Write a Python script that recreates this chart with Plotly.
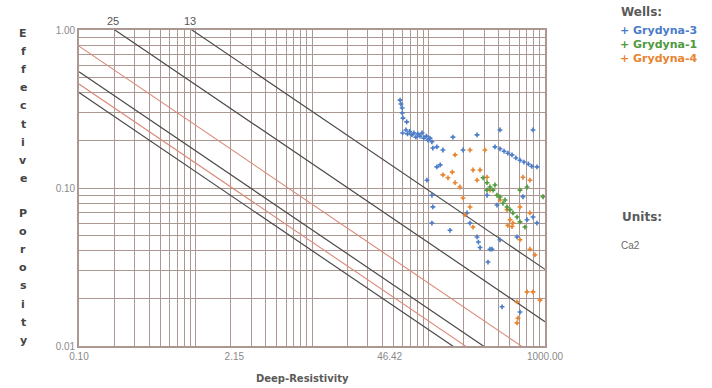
import numpy as np
import plotly.graph_objects as go

# ---------------- data ----------------
# Well Grydyna-3 (blue): deep resistivity, effective porosity
g3_rt = [57, 58, 59.5, 59.5, 60.4, 65,
         60, 64, 66, 69, 72, 75, 78, 81, 84.5, 88, 91, 96, 99, 103, 107,
         109, 118, 133, 162, 261, 411, 789, 198,
         372, 411, 445, 480, 521, 563, 610, 660, 720, 770, 853,
         126, 118, 97, 107, 109, 107, 153, 214, 227, 261, 277, 337, 411, 575, 789, 853,
         318, 387, 647, 701, 268, 351, 324, 610, 428]
g3_phi = [0.36, 0.34, 0.321, 0.298, 0.277, 0.262,
          0.223, 0.233, 0.220, 0.228, 0.217, 0.223, 0.210, 0.220, 0.213, 0.223, 0.207, 0.213, 0.201, 0.207, 0.196,
          0.179, 0.182, 0.174, 0.210, 0.217, 0.233, 0.233, 0.174,
          0.182, 0.177, 0.171, 0.166, 0.162, 0.155, 0.150, 0.146, 0.142, 0.137, 0.136,
          0.140, 0.136, 0.112, 0.090, 0.076, 0.060, 0.054, 0.0695, 0.060, 0.049, 0.042, 0.041, 0.047, 0.049, 0.0655, 0.060,
          0.090, 0.078, 0.088, 0.063, 0.0455, 0.041, 0.034, 0.0164, 0.0177]

# Well Grydyna-1 (green)
g1_rt = [294, 318, 337, 358, 387, 411, 436, 472, 501, 531, 575, 610, 673, 610, 701, 962, 318, 372, 454]
g1_phi = [0.116, 0.108, 0.1015, 0.097, 0.090, 0.0877, 0.080, 0.0758, 0.073, 0.0695, 0.0655, 0.061, 0.0566,
          0.097, 0.1015, 0.088, 0.097, 0.1045, 0.084]

# Well Grydyna-4 (orange)
g4_rt = [133, 147, 169, 186, 198, 227,
         241, 277, 261, 318, 337, 411,
         472, 501, 531, 610, 743, 647,
         743, 241, 160, 169, 227, 305,
         206, 610, 820, 701, 789, 575,
         575, 586, 906, 743, 480, 521]
g4_phi = [0.121, 0.116, 0.108, 0.1015, 0.0865, 0.0758,
          0.130, 0.130, 0.112, 0.117, 0.097, 0.084,
          0.073, 0.063, 0.060, 0.0758, 0.112, 0.117,
          0.0695, 0.0566, 0.126, 0.162, 0.174, 0.174,
          0.0675, 0.047, 0.0377, 0.022, 0.022, 0.019,
          0.014, 0.015, 0.0195, 0.041, 0.058, 0.057]

well_names = ["Grydyna-3", "Grydyna-1", "Grydyna-4"]
well_colors = ["#4a7cc8", "#4e9a3c", "#e8832e"]

# Pickett lines: phi = C / sqrt(Rt)
sw_labels = ["25", "13"]
sw_label_C = [0.451, 0.966]
black_C = [0.451, 0.966, 0.172, 0.127]
red_C = [0.250, 0.144]

x_ticks = [0.1, 2.154, 46.42, 1000]
x_ticktext = ["0.10", "2.15", "46.42", "1000.00"]
y_ticks = [0.01, 0.1, 1]
y_ticktext = ["0.01", "0.10", "1.00"]

x_title = "Deep-Resistivity"
y_title = "Effective Porosity"
units_value = "Ca2"

# ---------------- figure ----------------
L, R, T, B = 79, 545, 30, 346
W, H = 712, 388
pw, ph = R - L, B - T

def px2paper_x(px):
    return (px - L) / pw

def px2paper_y(py):
    return (B - py) / ph

fig = go.Figure()

rt_line = np.array([0.1, 1000.0])
for c in red_C:
    fig.add_trace(go.Scatter(x=rt_line, y=c / np.sqrt(rt_line), mode="lines",
                             line=dict(color="#d98a78", width=1.1), hoverinfo="skip"))
for c in black_C:
    fig.add_trace(go.Scatter(x=rt_line, y=c / np.sqrt(rt_line), mode="lines",
                             line=dict(color="#4a4a4a", width=1.2), hoverinfo="skip"))

for rts, phis, col in [(g3_rt, g3_phi, well_colors[0]),
                       (g4_rt, g4_phi, well_colors[2]),
                       (g1_rt, g1_phi, well_colors[1])]:
    fig.add_trace(go.Scatter(x=rts, y=phis, mode="markers",
                             marker=dict(symbol="cross", size=4, color=col, line=dict(width=0))))

x_grid = [m * 10.0 ** e for e in range(-1, 3) for m in range(1, 10)] + [1000.0]
y_grid = [m * 10.0 ** e for e in range(-2, 0) for m in range(1, 10)] + [1.0]
grid_col = "#ab9893"

fig.update_xaxes(type="log", range=[-1, 3], showgrid=False, zeroline=False,
                 tickmode="array", tickvals=x_ticks, ticktext=x_ticktext, ticks="",
                 tickfont=dict(family="Liberation Sans, Arial", size=10, color="#8a8a8a"),
                 showline=True, mirror=True, linecolor=grid_col, linewidth=1.6,
                 minor=dict(tickmode="array", tickvals=x_grid, showgrid=True,
                            gridcolor=grid_col, gridwidth=1.4, ticks=""))
fig.update_yaxes(type="log", range=[-2, 0], showgrid=False, zeroline=False,
                 tickmode="array", tickvals=y_ticks, ticktext=y_ticktext, ticks="",
                 tickfont=dict(family="Liberation Sans, Arial", size=10, color="#8a8a8a"),
                 showline=True, mirror=True, linecolor=grid_col, linewidth=1.6,
                 minor=dict(tickmode="array", tickvals=y_grid, showgrid=True,
                            gridcolor=grid_col, gridwidth=1.4, ticks=""))

ann = []
# Sw labels at the top of the plot
for lab, c in zip(sw_labels, sw_label_C):
    ann.append(dict(x=np.log10(c ** 2), xref="x", y=1, yref="paper", yanchor="bottom",
                    xanchor="center", xshift=-2, yshift=1, text=lab, showarrow=False,
                    font=dict(family="Liberation Sans, Arial", size=11, color="#555555")))

# x title
ann.append(dict(x=px2paper_x(302), y=px2paper_y(378), xref="paper", yref="paper",
                text="<b>" + x_title + "</b>", showarrow=False, xanchor="center", yanchor="middle",
                font=dict(family="DejaVu Sans", size=10, color="#5a5a5a")))

# vertical stacked y title
words = y_title.split(" ")
starts = [33, 213]
for w, s0 in zip(words, starts):
    for i, ch in enumerate(w):
        ann.append(dict(x=px2paper_x(23), y=px2paper_y(s0 + i * 18.2), xref="paper", yref="paper",
                        text="<b>" + ch + "</b>", showarrow=False, xanchor="center", yanchor="middle",
                        font=dict(family="DejaVu Sans", size=11, color="#444444")))

# wells legend
ann.append(dict(x=px2paper_x(619), y=px2paper_y(12), xref="paper", yref="paper",
                text="<b>Wells:</b>", showarrow=False, xanchor="left", yanchor="middle",
                font=dict(family="DejaVu Sans", size=12, color="#5a5a5a")))
for i, (nm, col) in enumerate(zip(well_names, well_colors)):
    ann.append(dict(x=px2paper_x(618), y=px2paper_y(30 + 14 * i), xref="paper", yref="paper",
                    text="<b>+ " + nm + "</b>", showarrow=False, xanchor="left", yanchor="middle",
                    font=dict(family="DejaVu Sans", size=11, color=col)))

ann.append(dict(x=px2paper_x(620), y=px2paper_y(217), xref="paper", yref="paper",
                text="<b>Units:</b>", showarrow=False, xanchor="left", yanchor="middle",
                font=dict(family="DejaVu Sans", size=12, color="#5a5a5a")))
ann.append(dict(x=px2paper_x(619), y=px2paper_y(245), xref="paper", yref="paper",
                text=units_value, showarrow=False, xanchor="left", yanchor="middle",
                font=dict(family="Liberation Sans, Arial", size=10, color="#6a6a6a")))

fig.update_layout(width=W, height=H, margin=dict(l=L, r=W - R, t=T, b=H - B, pad=0),
                  paper_bgcolor="white", plot_bgcolor="white", showlegend=False,
                  annotations=ann)

fig.write_html("out.html")
